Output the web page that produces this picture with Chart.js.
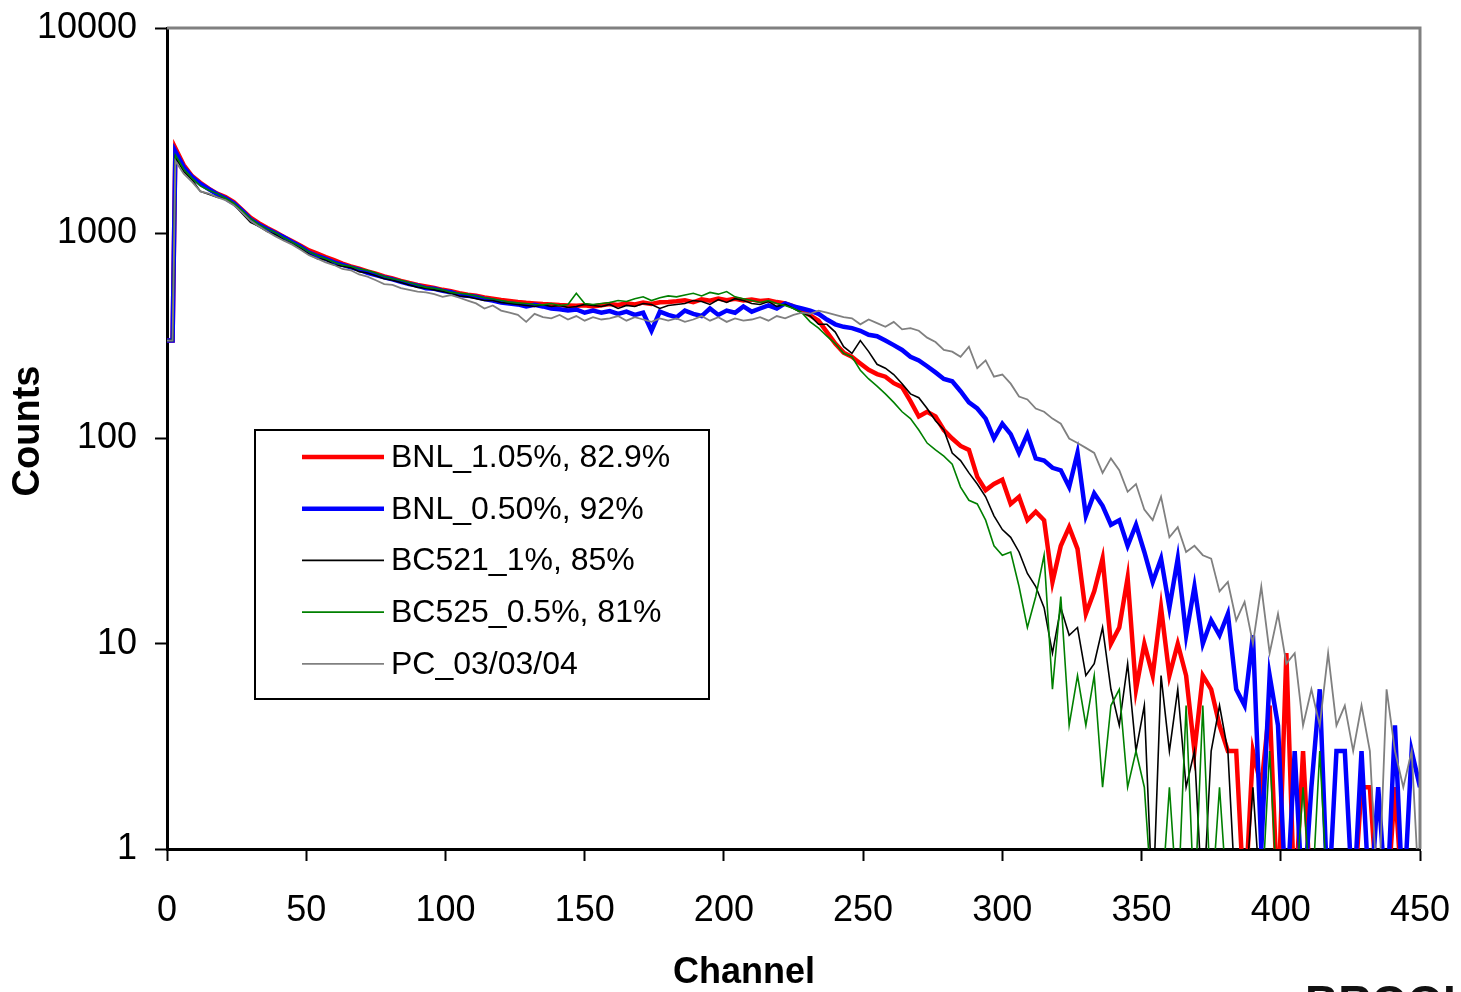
<!DOCTYPE html>
<html lang="en">
<head>
<meta charset="UTF-8">
<title>Counts vs Channel</title>
<script src="https://cdn.jsdelivr.net/npm/chart.js"></script>
<style>
  * { margin: 0; padding: 0; box-sizing: border-box; }
  body { background: #fff; width: 1461px; height: 992px; overflow: hidden; }
  .chart-box { position: relative; width: 1461px; height: 992px; }
</style>
</head>
<body>
<div class="chart-box"><canvas id="spectrum"></canvas></div>
<script>
// channel numbers the counts were read at
const channels = [0, 2,
  3, 6, 9, 12, 15, 18, 21, 24, 27, 30,
  33, 36, 39, 42, 45, 48, 51, 54, 57, 60,
  63, 66, 69, 72, 75, 78, 81, 84, 87, 90,
  93, 96, 99, 102, 105, 108, 111, 114, 117, 120,
  123, 126, 129, 132, 135, 138, 141, 144, 147, 150,
  153, 156, 159, 162, 165, 168, 171, 174, 177, 180,
  183, 186, 189, 192, 195, 198, 201, 204, 207, 210,
  213, 216, 219, 222, 225, 228, 231, 234, 237, 240,
  243, 246, 249, 252, 255, 258, 261, 264, 267, 270,
  273, 276, 279, 282, 285, 288, 291, 294, 297, 300,
  303, 306, 309, 312, 315, 318, 321, 324, 327, 330,
  333, 336, 339, 342, 345, 348, 351, 354, 357, 360,
  363, 366, 369, 372, 375, 378, 381, 384, 387, 390,
  393, 396, 399, 402, 405, 408, 411, 414, 417, 420,
  423, 426, 429, 432, 435, 438, 441, 444, 447, 450];

const bnl105 = [300, 300,
  2600, 2150, 1900, 1760, 1650, 1560, 1500, 1420, 1300, 1190,
  1120, 1060, 1010, 960, 915, 870, 825, 795, 765, 740,
  712, 690, 672, 652, 636, 616, 602, 586, 572, 560,
  550, 541, 530, 522, 511, 502, 496, 486, 480, 473,
  468, 462, 458, 455, 452, 450, 447, 445, 443, 446,
  440, 446, 452, 447, 456, 450, 459, 452, 461, 463,
  466, 471, 461, 476, 469, 481, 472, 479, 470, 476,
  468, 471, 462, 455, 440, 418, 398, 375, 330, 290,
  262, 250, 232, 216, 206, 200, 186, 178, 152, 128,
  135, 128, 110, 100, 92, 88, 65, 56, 60, 63,
  48, 52, 40, 44, 40, 20, 30, 37, 29, 14,
  18, 26, 10, 12, 21, 6, 10, 7, 15, 7,
  10, 7, 3, 7, 6, 4, 3, 3, 0, 3,
  2, 5, 0, 9, 0, 3, 0, 0, 0, 0,
  0, 0, 2, 2, 0, 0, 2, 0, 0, 0];

const bnl050 = [300, 300,
  2500, 2100, 1880, 1740, 1640, 1550, 1480, 1400, 1290, 1170,
  1100, 1050, 1000, 955, 905, 860, 805, 775, 750, 722,
  702, 682, 665, 642, 626, 610, 596, 580, 566, 556,
  540, 536, 524, 516, 500, 496, 490, 478, 470, 460,
  455, 450, 440, 448, 440, 430, 426, 420, 425, 410,
  420, 410, 418, 405, 415, 400, 410, 335, 415, 400,
  390, 420, 405, 395, 430, 400, 420, 410, 440, 415,
  430, 445, 430, 455, 440, 430, 420, 405, 380, 360,
  350, 345, 335, 320, 315, 300, 285, 270, 250, 240,
  225, 210, 195, 190, 170, 150, 140, 125, 100, 118,
  105, 85, 105, 80, 78, 72, 70, 58, 85, 42,
  54, 47, 38, 40, 30, 38, 28, 20, 26, 15,
  26, 11, 19, 10, 13, 11, 14, 6, 5, 11,
  1, 7, 4, 0, 3, 0, 2, 6, 0, 3,
  3, 0, 3, 0, 2, 0, 4, 0, 3, 2];

const bc521 = [300, 300,
  2350, 2000, 1820, 1600, 1550, 1500, 1470, 1380, 1250, 1130,
  1080, 1020, 985, 925, 890, 840, 790, 752, 742, 700,
  690, 680, 650, 640, 620, 600, 590, 575, 560, 545,
  540, 530, 520, 510, 495, 490, 480, 470, 470, 460,
  455, 450, 445, 440, 448, 440, 445, 435, 440, 450,
  445, 440, 450, 430, 445, 440, 455, 450, 430, 445,
  450, 455, 470, 465, 450, 475, 460, 480, 470, 455,
  450, 465, 440, 450, 430, 410, 395, 360, 360, 330,
  280, 260, 300, 265, 230, 220, 205, 185, 165, 158,
  140, 122, 110, 85, 78, 68, 60, 52, 42, 36,
  33, 28, 22, 19, 15, 9, 15, 11, 12, 7,
  8, 12, 6, 4, 8, 3, 5, 0, 7, 3,
  6, 2, 3, 0, 3, 5, 3, 0, 0, 2,
  0, 0, 0, 0, 0, 0, 0, 0, 0, 0,
  0, 0, 0, 0, 0, 0, 0, 0, 0, 0];

const bc525 = [300, 300,
  2400, 2050, 1850, 1700, 1620, 1560, 1480, 1400, 1290, 1180,
  1100, 1050, 1005, 950, 905, 860, 812, 780, 752, 722,
  700, 690, 670, 660, 640, 615, 600, 590, 575, 560,
  545, 540, 530, 515, 510, 505, 495, 485, 478, 470,
  462, 458, 455, 450, 448, 455, 445, 450, 510, 455,
  450, 455, 460, 470, 465, 480, 490, 470, 485, 495,
  490, 500, 510, 495, 515, 505, 520, 490, 480, 470,
  460, 470, 455, 445, 430, 410, 370, 345, 315, 290,
  260, 250, 215, 195, 180, 165, 150, 135, 125, 110,
  95, 88, 82, 75, 58, 50, 48, 40, 30, 27,
  28, 19, 12, 17, 27, 6, 17, 4, 7, 4,
  7, 2, 5, 6, 2, 3, 2, 0, 0, 2,
  0, 5, 0, 5, 0, 2, 0, 0, 0, 0,
  0, 3, 0, 0, 0, 2, 0, 3, 0, 0,
  0, 0, 0, 0, 0, 0, 0, 0, 0, 0];

const pc030304 = [300, 300,
  2250, 1950, 1780, 1600, 1560, 1500, 1450, 1370, 1260, 1150,
  1080, 1020, 965, 920, 880, 830, 782, 752, 722, 700,
  670, 660, 630, 615, 590, 565, 560, 540, 530, 520,
  515, 505, 490, 500, 485, 470, 455, 430, 445, 420,
  410, 400, 370, 405, 390, 385, 400, 380, 395, 375,
  390, 380, 385, 395, 375, 390, 380, 370, 385, 375,
  385, 370, 380, 395, 375, 390, 370, 385, 375, 380,
  390, 375, 395, 385, 400, 410, 405, 420, 410, 400,
  390, 385, 360, 380, 365, 350, 370, 340, 345, 335,
  310, 295, 270, 265, 250, 280, 220, 240, 200, 205,
  185, 160, 155, 140, 135, 125, 118, 100, 95, 90,
  85, 68, 80, 70, 55, 60, 45, 40, 52, 33,
  37, 28, 30, 27, 26, 18, 20, 13, 16, 10,
  19, 9, 14, 8, 9, 4, 6, 4, 9, 4,
  5, 3, 5, 3, 0, 6, 3, 2, 3, 0];

const seriesLabels = ['BNL_1.05%, 82.9%', 'BNL_0.50%, 92%', 'BC521_1%, 85%', 'BC525_0.5%, 81%', 'PC_03/03/04'];
const yTickValues = [1, 10, 100, 1000, 10000];
const xTitle = 'Channel';
const yTitle = 'Counts';

const FONT = '"Liberation Sans", Arial, Helvetica, sans-serif';

// zero counts have no place on a log axis: park them under the bottom edge so the line drops out
function toPoints(counts) {
  return channels.map((ch, i) => ({ x: ch, y: counts[i] > 0 ? counts[i] : 0.5 }));
}

const styles = [
  { color: '#ff0000', width: 4.5, order: 5 },
  { color: '#0000ff', width: 4.5, order: 4 },
  { color: '#000000', width: 1.6, order: 3 },
  { color: '#008000', width: 1.6, order: 2 },
  { color: '#808080', width: 1.8, order: 1 }
];
const seriesData = [bnl105, bnl050, bc521, bc525, pc030304];

const datasets = seriesData.map((counts, i) => ({
  label: seriesLabels[i],
  data: toPoints(counts),
  borderColor: styles[i].color,
  backgroundColor: styles[i].color,
  borderWidth: styles[i].width,
  order: styles[i].order,
  pointRadius: 0,
  tension: 0,
  clip: 0
}));

// gray top and right edges of the plot box
const plotFrame = {
  id: 'plotFrame',
  afterDatasetsDraw(chart) {
    const { ctx, chartArea: a } = chart;
    ctx.save();
    ctx.strokeStyle = '#808080';
    ctx.lineWidth = 3;
    ctx.beginPath();
    ctx.moveTo(a.left, a.top);
    ctx.lineTo(a.right, a.top);
    ctx.lineTo(a.right, a.bottom);
    ctx.stroke();
    ctx.restore();
  }
};

// boxed legend sitting inside the plot
const boxLegend = {
  id: 'boxLegend',
  afterDraw(chart) {
    const { ctx, chartArea: a } = chart;
    const x = a.left + 88, y = a.top + 402, w = 454, h = 269;
    ctx.save();
    ctx.fillStyle = '#fff';
    ctx.fillRect(x, y, w, h);
    ctx.lineWidth = 2;
    ctx.strokeStyle = '#000';
    ctx.strokeRect(x, y, w, h);
    ctx.font = '32px ' + FONT;
    ctx.textBaseline = 'middle';
    chart.data.datasets.forEach((ds, i) => {
      const rowY = y + 27 + i * 51.7;
      ctx.beginPath();
      ctx.strokeStyle = ds.borderColor;
      ctx.lineWidth = ds.borderWidth;
      ctx.moveTo(x + 47, rowY);
      ctx.lineTo(x + 129, rowY);
      ctx.stroke();
      ctx.fillStyle = '#000';
      ctx.fillText(ds.label, x + 136, rowY + 1);
    });
    ctx.restore();
  }
};

// axis titles: the x title is not centred under the plot in the original, so draw both by hand
const axisTitles = {
  id: 'axisTitles',
  afterDraw(chart) {
    const { ctx, chartArea: a } = chart;
    ctx.save();
    ctx.fillStyle = '#000';
    ctx.textAlign = 'center';
    ctx.textBaseline = 'middle';
    ctx.font = 'bold 36px ' + FONT;
    ctx.fillText(xTitle, a.left + 577, a.bottom + 124);
    ctx.translate(29, a.top + 403);
    ctx.rotate(-Math.PI / 2);
    ctx.font = 'bold 38px ' + FONT;
    ctx.fillText(yTitle, 0, 0);
    ctx.restore();
  }
};

// logo text cut off at the bottom edge of the original slide
const cutLogo = {
  id: 'cutLogo',
  afterDraw(chart) {
    const { ctx } = chart;
    ctx.save();
    ctx.font = 'bold 46px ' + FONT;
    ctx.fillStyle = '#111';
    ctx.textBaseline = 'alphabetic';
    ctx.fillText('BROOKHAVEN', 1305, 1018);
    ctx.restore();
  }
};

new Chart(document.getElementById('spectrum'), {
  type: 'line',
  data: { datasets },
  options: {
    responsive: true,
    maintainAspectRatio: false,
    animation: false,
    layout: { padding: { top: 28, right: 41, left: 0, bottom: 0 } },
    plugins: { legend: { display: false }, tooltip: { enabled: false } },
    scales: {
      x: {
        type: 'linear',
        min: 0,
        max: 450,
        ticks: {
          stepSize: 50,
          autoSkip: false,
          maxRotation: 0,
          color: '#000',
          padding: 28,
          font: { family: FONT, size: 36 }
        },
        grid: { drawOnChartArea: false, tickLength: 12, tickColor: '#000', tickWidth: 2 },
        border: { color: '#000', width: 3 },
        // fixed box: no extra room for the end labels, the layout padding already leaves it
        afterFit(scale) {
          scale.height = 143;
          scale.paddingLeft = 0;
          scale.paddingRight = 0;
        }
      },
      y: {
        type: 'logarithmic',
        min: 1,
        max: 10000,
        afterBuildTicks(scale) {
          scale.ticks = yTickValues.map(v => ({ value: v, major: true }));
        },
        ticks: {
          autoSkip: false,
          color: '#000',
          padding: 18,
          font: { family: FONT, size: 36 },
          callback: v => String(v)
        },
        grid: { drawOnChartArea: false, tickLength: 12, tickColor: '#000', tickWidth: 2 },
        border: { color: '#000', width: 3 },
        afterFit(scale) {
          scale.width = 167;
          scale.paddingTop = 0;
          scale.paddingBottom = 0;
        }
      }
    }
  },
  plugins: [plotFrame, boxLegend, axisTitles, cutLogo]
});
</script>
</body>
</html>
